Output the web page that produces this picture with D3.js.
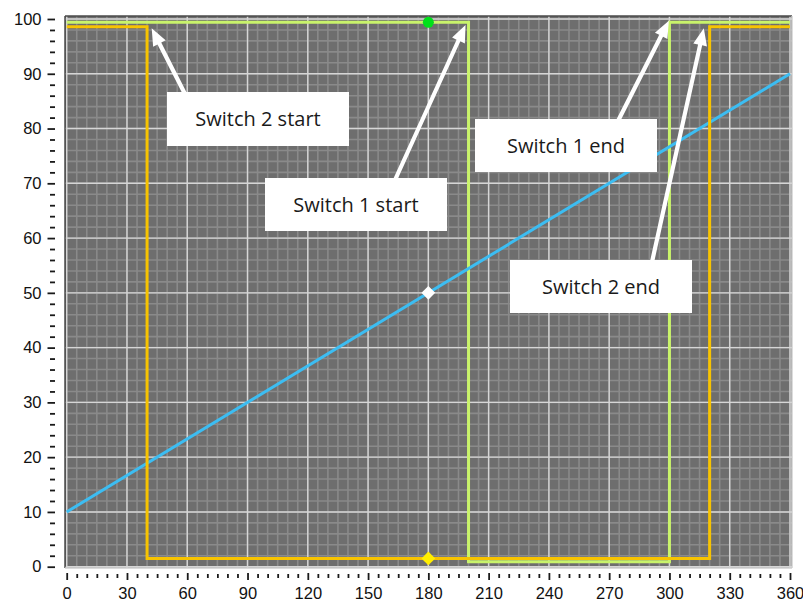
<!DOCTYPE html>
<html>
<head>
<meta charset="utf-8">
<script src="https://cdn.jsdelivr.net/npm/d3@7"></script>
<style>
  html, body { margin: 0; padding: 0; background: #ffffff; }
  svg { display: block; }
</style>
</head>
<body>
<svg id="chart" width="803" height="604"></svg>
<script>
// ---------- data ----------
const xTickValues = [0, 30, 60, 90, 120, 150, 180, 210, 240, 270, 300, 330, 360];
const yTickValues = [0, 10, 20, 30, 40, 50, 60, 70, 80, 90, 100];

const rampAngle = [0, 360];
const rampValue = [10, 90];

const switch1Angle = [0, 200, 200, 300, 300, 360];
const switch1Value = [99.4, 99.4, 0.9, 0.9, 99.4, 99.4];

const switch2Angle = [0, 40, 40, 320, 320, 360];
const switch2Value = [98.6, 98.6, 1.5, 1.5, 98.6, 98.6];

const markerAngle = 180;
const markerValues = [99.4, 50, 1.5]; // switch1, ramp, switch2

const annoLabels = ["Switch 2 start", "Switch 1 start", "Switch 1 end", "Switch 2 end"];
const annoTipAngle = [42.3, 198.5, 299.7, 317.1];
const annoTipValue = [98.3, 98.9, 99.7, 98.3];

// ---------- layout ----------
const plot = { left: 65, right: 792, top: 16, bottom: 568 };
const annoBoxes = [
  { x: 167, y: 92, w: 182, h: 54, tail: [185, 92] },
  { x: 265, y: 178, w: 182, h: 53, tail: [395, 178] },
  { x: 475, y: 119, w: 182, h: 53, tail: [618, 119] },
  { x: 510, y: 260, w: 182, h: 53, tail: [652, 260] }
];

const svg = d3.select("#chart");
const x = d3.scaleLinear().domain([0, 360]).range([66.7, 790]);
const y = d3.scaleLinear().domain([0, 100]).range([566.7, 19]);

// plot background
svg.append("rect")
  .attr("x", plot.left).attr("y", plot.top)
  .attr("width", plot.right - plot.left).attr("height", plot.bottom - plot.top)
  .attr("fill", "#6e6e6e");

const grid = svg.append("g");
const minorX = d3.range(0, 361, 5);
const minorY = d3.range(0, 101, 2);
grid.selectAll("line.mx").data(minorX).join("line")
  .attr("x1", d => x(d)).attr("x2", d => x(d))
  .attr("y1", plot.top).attr("y2", plot.bottom)
  .attr("stroke", "#8a8a8a").attr("stroke-width", 1.6);
grid.selectAll("line.my").data(minorY).join("line")
  .attr("y1", d => y(d)).attr("y2", d => y(d))
  .attr("x1", plot.left).attr("x2", plot.right)
  .attr("stroke", "#8a8a8a").attr("stroke-width", 1.6);
grid.selectAll("line.Mx").data(xTickValues).join("line")
  .attr("x1", d => x(d)).attr("x2", d => x(d))
  .attr("y1", plot.top).attr("y2", plot.bottom)
  .attr("stroke", "#d6d6d6").attr("stroke-width", 1.4);
grid.selectAll("line.My").data(yTickValues).join("line")
  .attr("y1", d => y(d)).attr("y2", d => y(d))
  .attr("x1", plot.left).attr("x2", plot.right)
  .attr("stroke", "#d6d6d6").attr("stroke-width", 1.4);

// border (sunken)
svg.append("line").attr("x1", plot.left).attr("x2", plot.right).attr("y1", plot.top).attr("y2", plot.top)
  .attr("stroke", "#4a4a4a").attr("stroke-width", 1.5);
svg.append("line").attr("x1", plot.left).attr("x2", plot.left).attr("y1", plot.top).attr("y2", plot.bottom)
  .attr("stroke", "#4a4a4a").attr("stroke-width", 1.5);
svg.append("line").attr("x1", plot.right).attr("x2", plot.right).attr("y1", plot.top).attr("y2", plot.bottom)
  .attr("stroke", "#d0d0d0").attr("stroke-width", 1.5);
svg.append("line").attr("x1", plot.left).attr("x2", plot.right).attr("y1", plot.bottom).attr("y2", plot.bottom)
  .attr("stroke", "#d0d0d0").attr("stroke-width", 1.5);

// axes
const axisFont = "'Liberation Sans', Arial, sans-serif";
const xAxisMinor = d3.axisBottom(x).tickValues(minorX.filter(v => v % 30 !== 0)).tickSize(4).tickFormat("");
const xAxisMajor = d3.axisBottom(x).tickValues(xTickValues).tickSize(7).tickPadding(8).tickFormat(d3.format("d"));
const gxm = svg.append("g").attr("transform", `translate(0,${574})`).call(xAxisMinor);
const gx = svg.append("g").attr("transform", `translate(0,${573})`).call(xAxisMajor);
[gxm, gx].forEach(g => {
  g.select(".domain").remove();
  g.selectAll(".tick line").attr("stroke", "#1a1a1a").attr("stroke-width", 1.8);
});
gx.selectAll(".tick text").attr("font-family", axisFont).attr("font-size", 16.5).attr("fill", "#111")
  .attr("dy", "0.71em").attr("y", 14);

const yAxisMinor = d3.axisLeft(y).tickValues(minorY.filter(v => v % 10 !== 0)).tickSize(5).tickFormat("");
const yAxisMajor = d3.axisLeft(y).tickValues(yTickValues).tickSize(7.5).tickPadding(6).tickFormat(d3.format("d"));
const gym = svg.append("g").attr("transform", `translate(55,0)`).call(yAxisMinor);
const gy = svg.append("g").attr("transform", `translate(55,0)`).call(yAxisMajor);
[gym, gy].forEach(g => {
  g.select(".domain").remove();
  g.selectAll(".tick line").attr("stroke", "#1a1a1a").attr("stroke-width", 1.8);
});
gy.selectAll(".tick text").attr("font-family", axisFont).attr("font-size", 16.5).attr("fill", "#111");

// series
const lineGen = d3.line().x(d => x(d[0])).y(d => y(d[1]));
svg.append("clipPath").attr("id", "clip").append("rect")
  .attr("x", plot.left).attr("y", plot.top).attr("width", plot.right - plot.left).attr("height", plot.bottom - plot.top);
const series = svg.append("g").attr("clip-path", "url(#clip)");

series.append("path").datum(d3.zip(switch1Angle, switch1Value))
  .attr("d", lineGen).attr("fill", "none").attr("stroke", "#c9f36b").attr("stroke-width", 3);
series.append("path").datum(d3.zip(rampAngle, rampValue))
  .attr("d", lineGen).attr("fill", "none").attr("stroke", "#3cbdf2").attr("stroke-width", 3);
series.append("path").datum(d3.zip(switch2Angle, switch2Value))
  .attr("d", lineGen).attr("fill", "none").attr("stroke", "#f7c300").attr("stroke-width", 3);

// markers
svg.append("circle").attr("cx", x(markerAngle)).attr("cy", y(markerValues[0])).attr("r", 5.5)
  .attr("fill", "#00e01a");
const diamond = d3.symbol().type(d3.symbolDiamond2).size(120);
svg.append("path").attr("d", diamond).attr("transform", `translate(${x(markerAngle)},${y(markerValues[1])})`)
  .attr("fill", "#ffffff");
svg.append("path").attr("d", diamond).attr("transform", `translate(${x(markerAngle)},${y(markerValues[2])})`)
  .attr("fill", "#ffee00");

// annotations
const textFont = "'Open Sans', 'Noto Sans', sans-serif";
function arrowPath(x0, y0, x1, y1) {
  const dx = x1 - x0, dy = y1 - y0, L = Math.hypot(dx, dy);
  const ux = dx / L, uy = dy / L, px = -uy, py = ux;
  const hl = 17, hw = 7, sw = 2.1;
  const bx = x1 - ux * hl, by = y1 - uy * hl;
  const pts = [
    [x0 + px * sw, y0 + py * sw], [bx + px * sw, by + py * sw], [bx + px * hw, by + py * hw],
    [x1, y1], [bx - px * hw, by - py * hw], [bx - px * sw, by - py * sw], [x0 - px * sw, y0 - py * sw]
  ];
  return "M" + pts.map(p => p.join(",")).join("L") + "Z";
}
const anno = svg.append("g");
annoLabels.forEach((label, i) => {
  const b = annoBoxes[i];
  anno.append("path")
    .attr("d", arrowPath(b.tail[0], b.tail[1] + 2, x(annoTipAngle[i]), y(annoTipValue[i])))
    .attr("fill", "#ffffff");
  anno.append("rect").attr("x", b.x).attr("y", b.y).attr("width", b.w).attr("height", b.h)
    .attr("fill", "#ffffff");
  anno.append("text").attr("x", b.x + b.w / 2).attr("y", b.y + b.h / 2 + 7)
    .attr("text-anchor", "middle").attr("font-family", textFont).attr("font-size", 20)
    .attr("fill", "#1a1a1a").text(label);
});
</script>
</body>
</html>
